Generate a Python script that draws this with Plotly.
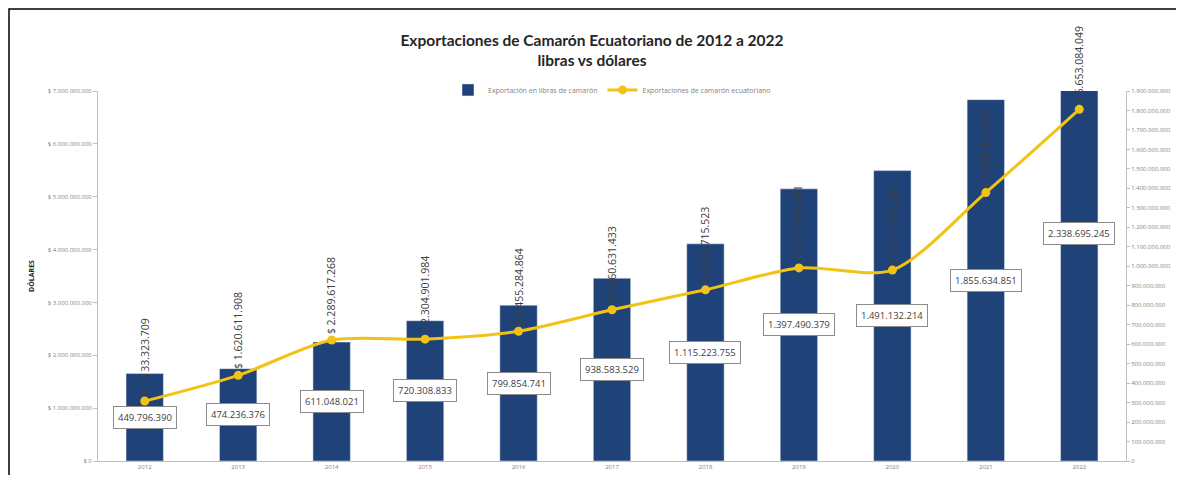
import plotly.graph_objects as go

years = ["2012", "2013", "2014", "2015", "2016", "2017", "2018", "2019", "2020", "2021", "2022"]
libras = [449796390, 474236376, 611048021, 720308833, 799854741, 938583529,
          1115223755, 1397490379, 1491132214, 1855634851, 2338695245]
dolares = [1133323709, 1620611908, 2289617268, 2304901984, 2455284864, 2860631433,
           3238715523, 3652584081, 3611478230, 5078425259, 6653084049]

left_tickvals = [0, 1e9, 2e9, 3e9, 4e9, 5e9, 6e9, 7e9]
left_ticktext = ["$ 0", "$ 1.000.000.000", "$ 2.000.000.000", "$ 3.000.000.000",
                 "$ 4.000.000.000", "$ 5.000.000.000", "$ 6.000.000.000", "$ 7.000.000.000"]
right_tickvals = [i * 100000000 for i in range(20)]


def fmt(v):
    return f"{v:,}".replace(",", ".")


right_ticktext = [fmt(v) for v in right_tickvals]

BAR = "#1F4279"
LINE = "#F2C314"

W, H = 1168, 467
L, R, T, B = 90, 50, 83, 14
PW, PH = W - L - R, H - T - B

fig = go.Figure()
fig.add_trace(go.Bar(
    x=years, y=libras, name="Exportación en libras de camarón",
    marker=dict(color=BAR), yaxis="y",
))
fig.add_trace(go.Scatter(
    x=years, y=dolares, name="Exportaciones de camarón ecuatoriano",
    mode="lines+markers", line=dict(color=LINE, width=3, shape="spline", smoothing=0.8),
    marker=dict(color=LINE, size=9, symbol="circle"), yaxis="y2",
))

annotations = []
for i, (lb, usd) in enumerate(zip(libras, dolares)):
    annotations.append(dict(
        x=i, y=lb / 2, xref="x", yref="y", text=fmt(lb), showarrow=False,
        font=dict(family="Open Sans", size=9.5, color="#404040"),
        bgcolor="white", bordercolor="#8C8C8C", borderwidth=1, borderpad=4,
    ))
    annotations.append(dict(
        x=i, y=usd, xref="x", yref="y2", text="$ " + fmt(usd), showarrow=False,
        textangle=-90, yanchor="bottom", yshift=4,
        font=dict(family="Open Sans", size=10.5, color="#404040"),
    ))

fig.update_layout(
    width=W, height=H,
    margin=dict(l=L, r=R, t=T, b=B, autoexpand=False),
    paper_bgcolor="white", plot_bgcolor="white",
    bargap=0.6,
    title=dict(
        text="<b>Exportaciones de Camarón Ecuatoriano de 2012 a 2022<br>libras vs dólares</b>",
        x=0.5, xanchor="center", y=1 - 38 / H, yanchor="middle", yref="container",
        font=dict(family="Lato", size=15.5, color="#262626"),
    ),
    legend=dict(
        orientation="h", x=0.5, xanchor="center", y=1.003, yanchor="middle",
        font=dict(family="Open Sans", size=7, color="#7F7F7F"), bgcolor="rgba(0,0,0,0)",
    ),
    xaxis=dict(
        type="category", range=[-0.5, len(years) - 0.5], showline=True, linecolor="#BFBFBF",
        showgrid=False, automargin=False,
        tickfont=dict(family="Open Sans", size=6, color="#7F7F7F"), ticks="",
    ),
    yaxis=dict(
        side="right", range=[0, 1.9e9], showline=True, linecolor="#BFBFBF",
        showgrid=False, zeroline=False, tickvals=right_tickvals, ticktext=right_ticktext,
        ticks="outside", ticklen=3, tickcolor="#BFBFBF", automargin=False,
        tickfont=dict(family="Open Sans", size=6, color="#7F7F7F"),
    ),
    yaxis2=dict(
        overlaying="y", side="left", range=[0, 7e9], showline=True, linecolor="#BFBFBF",
        showgrid=False, zeroline=False, tickvals=left_tickvals, ticktext=left_ticktext,
        ticks="outside", ticklen=4, tickcolor="#BFBFBF", automargin=False,
        tickfont=dict(family="Open Sans", size=6, color="#7F7F7F"),
        title=dict(text="<b>DÓLARES</b>", standoff=12,
                   font=dict(family="Open Sans", size=7, color="#262626")),
    ),
    annotations=annotations,
    shapes=[dict(
        type="rect", xref="paper", yref="paper",
        x0=(1 - L) / PW, x1=(W - L + 4) / PW,
        y0=-(B + 10) / PH, y1=(PH + T - 1) / PH,
        line=dict(color="black", width=1.5), fillcolor="rgba(0,0,0,0)", layer="below",
    )],
)

fig.write_html("out.html")
